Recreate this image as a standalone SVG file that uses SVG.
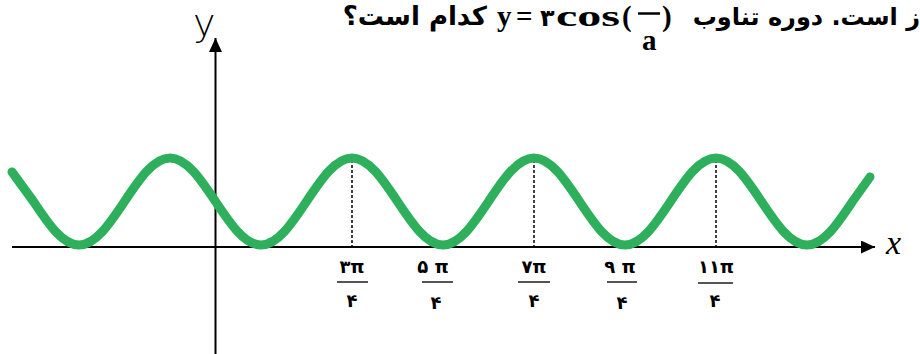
<svg xmlns="http://www.w3.org/2000/svg" width="920" height="354" viewBox="0 0 920 354">
<style>
.fa{font-family:"DejaVu Sans",sans-serif;font-weight:bold;font-size:26px;fill:#000}
.lat{font-family:"Liberation Serif",serif;font-weight:bold;font-size:29px;fill:#000}
.num{font-family:"DejaVu Sans",sans-serif;font-weight:bold;font-size:18px;fill:#000;text-anchor:middle}
.bar{stroke:#555;stroke-width:2}
.axis{stroke:#000;stroke-width:2;fill:none}
.tick{stroke:#000;stroke-width:1.5;stroke-dasharray:3 2}
.curve{fill:none;stroke:#2daf5c;stroke-width:9;stroke-linecap:round;stroke-linejoin:round}
.hand{font-family:"DejaVu Sans",sans-serif;font-weight:200;fill:#000}
</style>
<defs>
<marker id="arr" markerUnits="userSpaceOnUse" markerWidth="16" markerHeight="14" refX="14" refY="6.5" orient="auto">
<path d="M0,0 L14,6.5 L0,13 Z" fill="#000"/>
</marker>
</defs>
<g id="header">
<text class="fa" x="487" y="25" direction="rtl" text-anchor="start">کدام است؟</text>
<text class="lat" x="497" y="26">y</text>
<text class="lat" x="516" y="26">=</text>
<text class="fa" x="540" y="26" style="font-size:24px">۳</text>
<text class="lat" x="556" y="26" textLength="64" lengthAdjust="spacingAndGlyphs">cos</text>
<text class="lat" x="622" y="26">(</text>
<line x1="638" y1="13.5" x2="660" y2="13.5" stroke="#000" stroke-width="2.5"/>
<text class="lat" x="662" y="26">)</text>
<text class="lat" x="642" y="50">a</text>
<text class="fa" x="920" y="25" style="font-size:24px" direction="rtl" text-anchor="start">ز است. دوره تناوب</text>
</g>
<g id="connectors">
<line id="x-axis" class="axis" x1="12" y1="247" x2="875" y2="247" marker-end="url(#arr)"/>
<line id="y-axis" class="axis" x1="215.5" y1="354" x2="215.5" y2="38" marker-end="url(#arr)"/>
<line class="tick" x1="352" y1="160" x2="352" y2="247"/>
<line class="tick" x1="534" y1="160" x2="534" y2="247"/>
<line class="tick" x1="716" y1="160" x2="716" y2="247"/>
</g>
<g id="y-label"><text class="hand" x="193" y="36" style="font-size:38px">y</text></g>
<g id="x-label"><text x="886" y="254" style="font-family:'Liberation Serif',serif;font-style:italic;font-size:34px;fill:#000">x</text></g>
<g id="curve">
<path class="curve" d="M12,172 L33.5,201.5 c14.84,22.28 29.03,43.5 45.5,43.5 s30.66,-21.22 45.5,-43.5 s29.03,-43.5 45.5,-43.5 s30.66,21.22 45.5,43.5 s29.03,43.5 45.5,43.5 s30.66,-21.22 45.5,-43.5 s29.03,-43.5 45.5,-43.5 s30.66,21.22 45.5,43.5 s29.03,43.5 45.5,43.5 s30.66,-21.22 45.5,-43.5 s29.03,-43.5 45.5,-43.5 s30.66,21.22 45.5,43.5 s29.03,43.5 45.5,43.5 s30.66,-21.22 45.5,-43.5 s29.03,-43.5 45.5,-43.5 s30.66,21.22 45.5,43.5 s29.03,43.5 45.5,43.5 s30.66,-21.22 45.5,-43.5 L870,177"/>
</g>
<g id="label-3pi-4"><text class="num" x="352" y="273">۳π</text><line class="bar" x1="337" y1="282" x2="368" y2="282"/><text class="num" x="352" y="307">۴</text></g>
<g id="label-5pi-4"><text class="num" x="433" y="273">۵ π</text><line class="bar" x1="422" y1="282" x2="453" y2="282"/><text class="num" x="436" y="309">۴</text></g>
<g id="label-7pi-4"><text class="num" x="534" y="273">۷π</text><line class="bar" x1="518" y1="282" x2="550" y2="282"/><text class="num" x="534" y="307">۴</text></g>
<g id="label-9pi-4"><text class="num" x="620" y="273">۹ π</text><line class="bar" x1="607" y1="282" x2="637" y2="282"/><text class="num" x="622" y="309">۴</text></g>
<g id="label-11pi-4"><text class="num" x="716" y="273">۱۱π</text><line class="bar" x1="698" y1="283" x2="733" y2="283"/><text class="num" x="715" y="307">۴</text></g>
</svg>
